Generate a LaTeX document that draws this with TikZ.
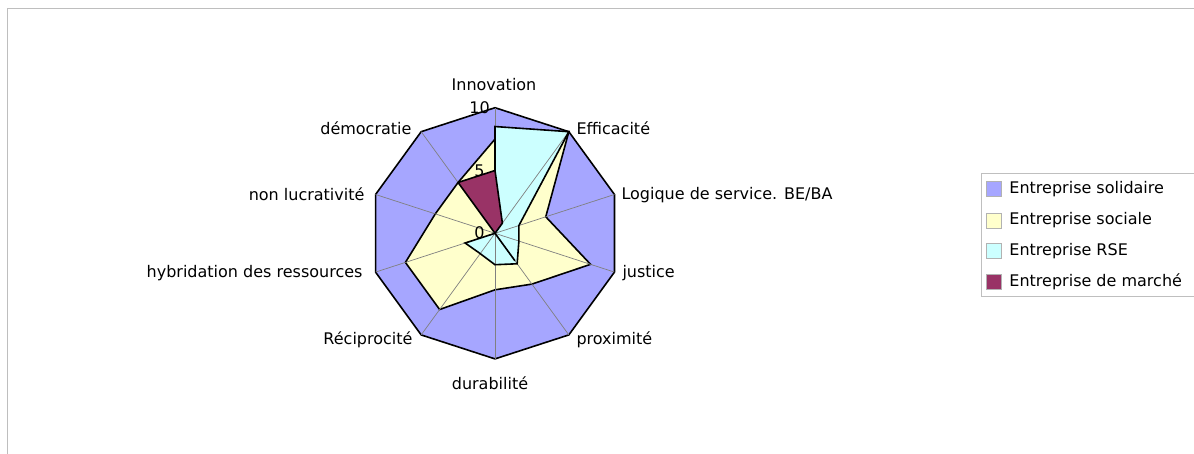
\documentclass[tikz,border=0pt]{standalone}
\usepackage{fontspec}
\setmainfont{DejaVu Sans}
\usetikzlibrary{positioning}
\definecolor{solidaire}{HTML}{A6A6FF}
\definecolor{sociale}{HTML}{FFFFCC}
\definecolor{rse}{HTML}{CCFFFF}
\definecolor{marche}{HTML}{993366}
\definecolor{cadre}{HTML}{BEBEBE}

\begin{document}
\begin{tikzpicture}[x=1pt,y=-1pt,font=\fontsize{16}{19}\selectfont,
    serie/.style={draw=black,line width=1.6pt,line join=miter},
    spoke/.style={gray,line width=0.7pt},
    legsq/.style={draw=gray!60,line width=0.5pt,minimum size=15pt,inner sep=0pt},
    legtext/.style={inner sep=0pt,anchor=west}]
    \useasboundingbox (0,0) rectangle (1194,454);

    % Frame
    \draw[cadre,line width=1.5pt] (7.5,454) -- (7.5,8.5) -- (1194,8.5);

    \begin{scope}[shift={(495,233.3)}]
      % Series points (one unit = 12.56)
      \foreach \v [count=\k] in {10,10,10,10,10,10,10,10,10,10}
        \coordinate (so\k) at ({36*\k-126}:{\v*12.56});
      \foreach \v [count=\k] in {7.5,10,4.25,8,5,4.5,7.5,7.5,5,5}
        \coordinate (ss\k) at ({36*\k-126}:{\v*12.56});
      \foreach \v [count=\k] in {8.5,10,2,2,3,2.5,2,2.5,0,0}
        \coordinate (rse\k) at ({36*\k-126}:{\v*12.56});
      \foreach \v [count=\k] in {5,1,0,0,2.7,0,0,0,0,5}
        \coordinate (mar\k) at ({36*\k-126}:{\v*12.56});
      \coordinate (centre) at (0,0);

      % Solidaire and sociale
      \foreach \s/\col in {so/solidaire,ss/sociale}
        \draw[serie,fill=\col] (\s1) \foreach \k in {2,...,10} {-- (\s\k)} -- cycle;

      % RSE fill, then spokes, then RSE outline
      \fill[rse] (rse1) \foreach \k in {2,...,10} {-- (rse\k)} -- cycle;
      \foreach \k in {1,...,10}
        \draw[spoke] (centre) -- (so\k);
      \draw[serie] (rse1) \foreach \k in {2,...,10} {-- (rse\k)} -- cycle;

      % Marche
      \draw[serie,fill=marche] (mar1) \foreach \k in {2,...,10} {-- (mar\k)} -- cycle;

      % Scale
      \node (t10) at (-15.5,-125.6) {10};
      \node (t5) at (-15.5,-62.8) {5};
      \node (t0) at (-15.5,-1) {0};
    \end{scope}

    % Axis labels
    \node (innovation) at (494,85) {Innovation};
    \node[anchor=west] (efficacite) at (573,128) {Efficacité};
    \node[anchor=west] (logique) at (618,195) {Logique de service. BE/BA};
    \node[anchor=west] (justice) at (619,273) {justice};
    \node[anchor=west] (proximite) at (573,340) {proximité};
    \node (durabilite) at (490,383) {durabilité};
    \node[anchor=east] (reciprocite) at (416,340) {Réciprocité};
    \node[anchor=east] (hybridation) at (366,273) {hybridation des ressources};
    \node[anchor=east] (lucrativite) at (368,194) {non lucrativité};
    \node[anchor=east] (democratie) at (415,128) {démocratie};

    % Legend
    \draw[gray!50,line width=1pt] (1194,173.5) -| (981.5,296.5) -- (1194,296.5);
    \node[legsq,fill=solidaire] (sq1) at (993.5,189) {};
    \node[legsq,fill=sociale] (sq2) at (993.5,220.5) {};
    \node[legsq,fill=rse] (sq3) at (993.5,251) {};
    \node[legsq,fill=marche] (sq4) at (993.5,282) {};
    \node[legtext,right=8pt of sq1] (l1) {Entreprise solidaire};
    \node[legtext,right=8pt of sq2] (l2) {Entreprise sociale};
    \node[legtext,right=8pt of sq3] (l3) {Entreprise RSE};
    \node[legtext,right=8pt of sq4] (l4) {Entreprise de marché};
  \end{tikzpicture}
\end{document}
